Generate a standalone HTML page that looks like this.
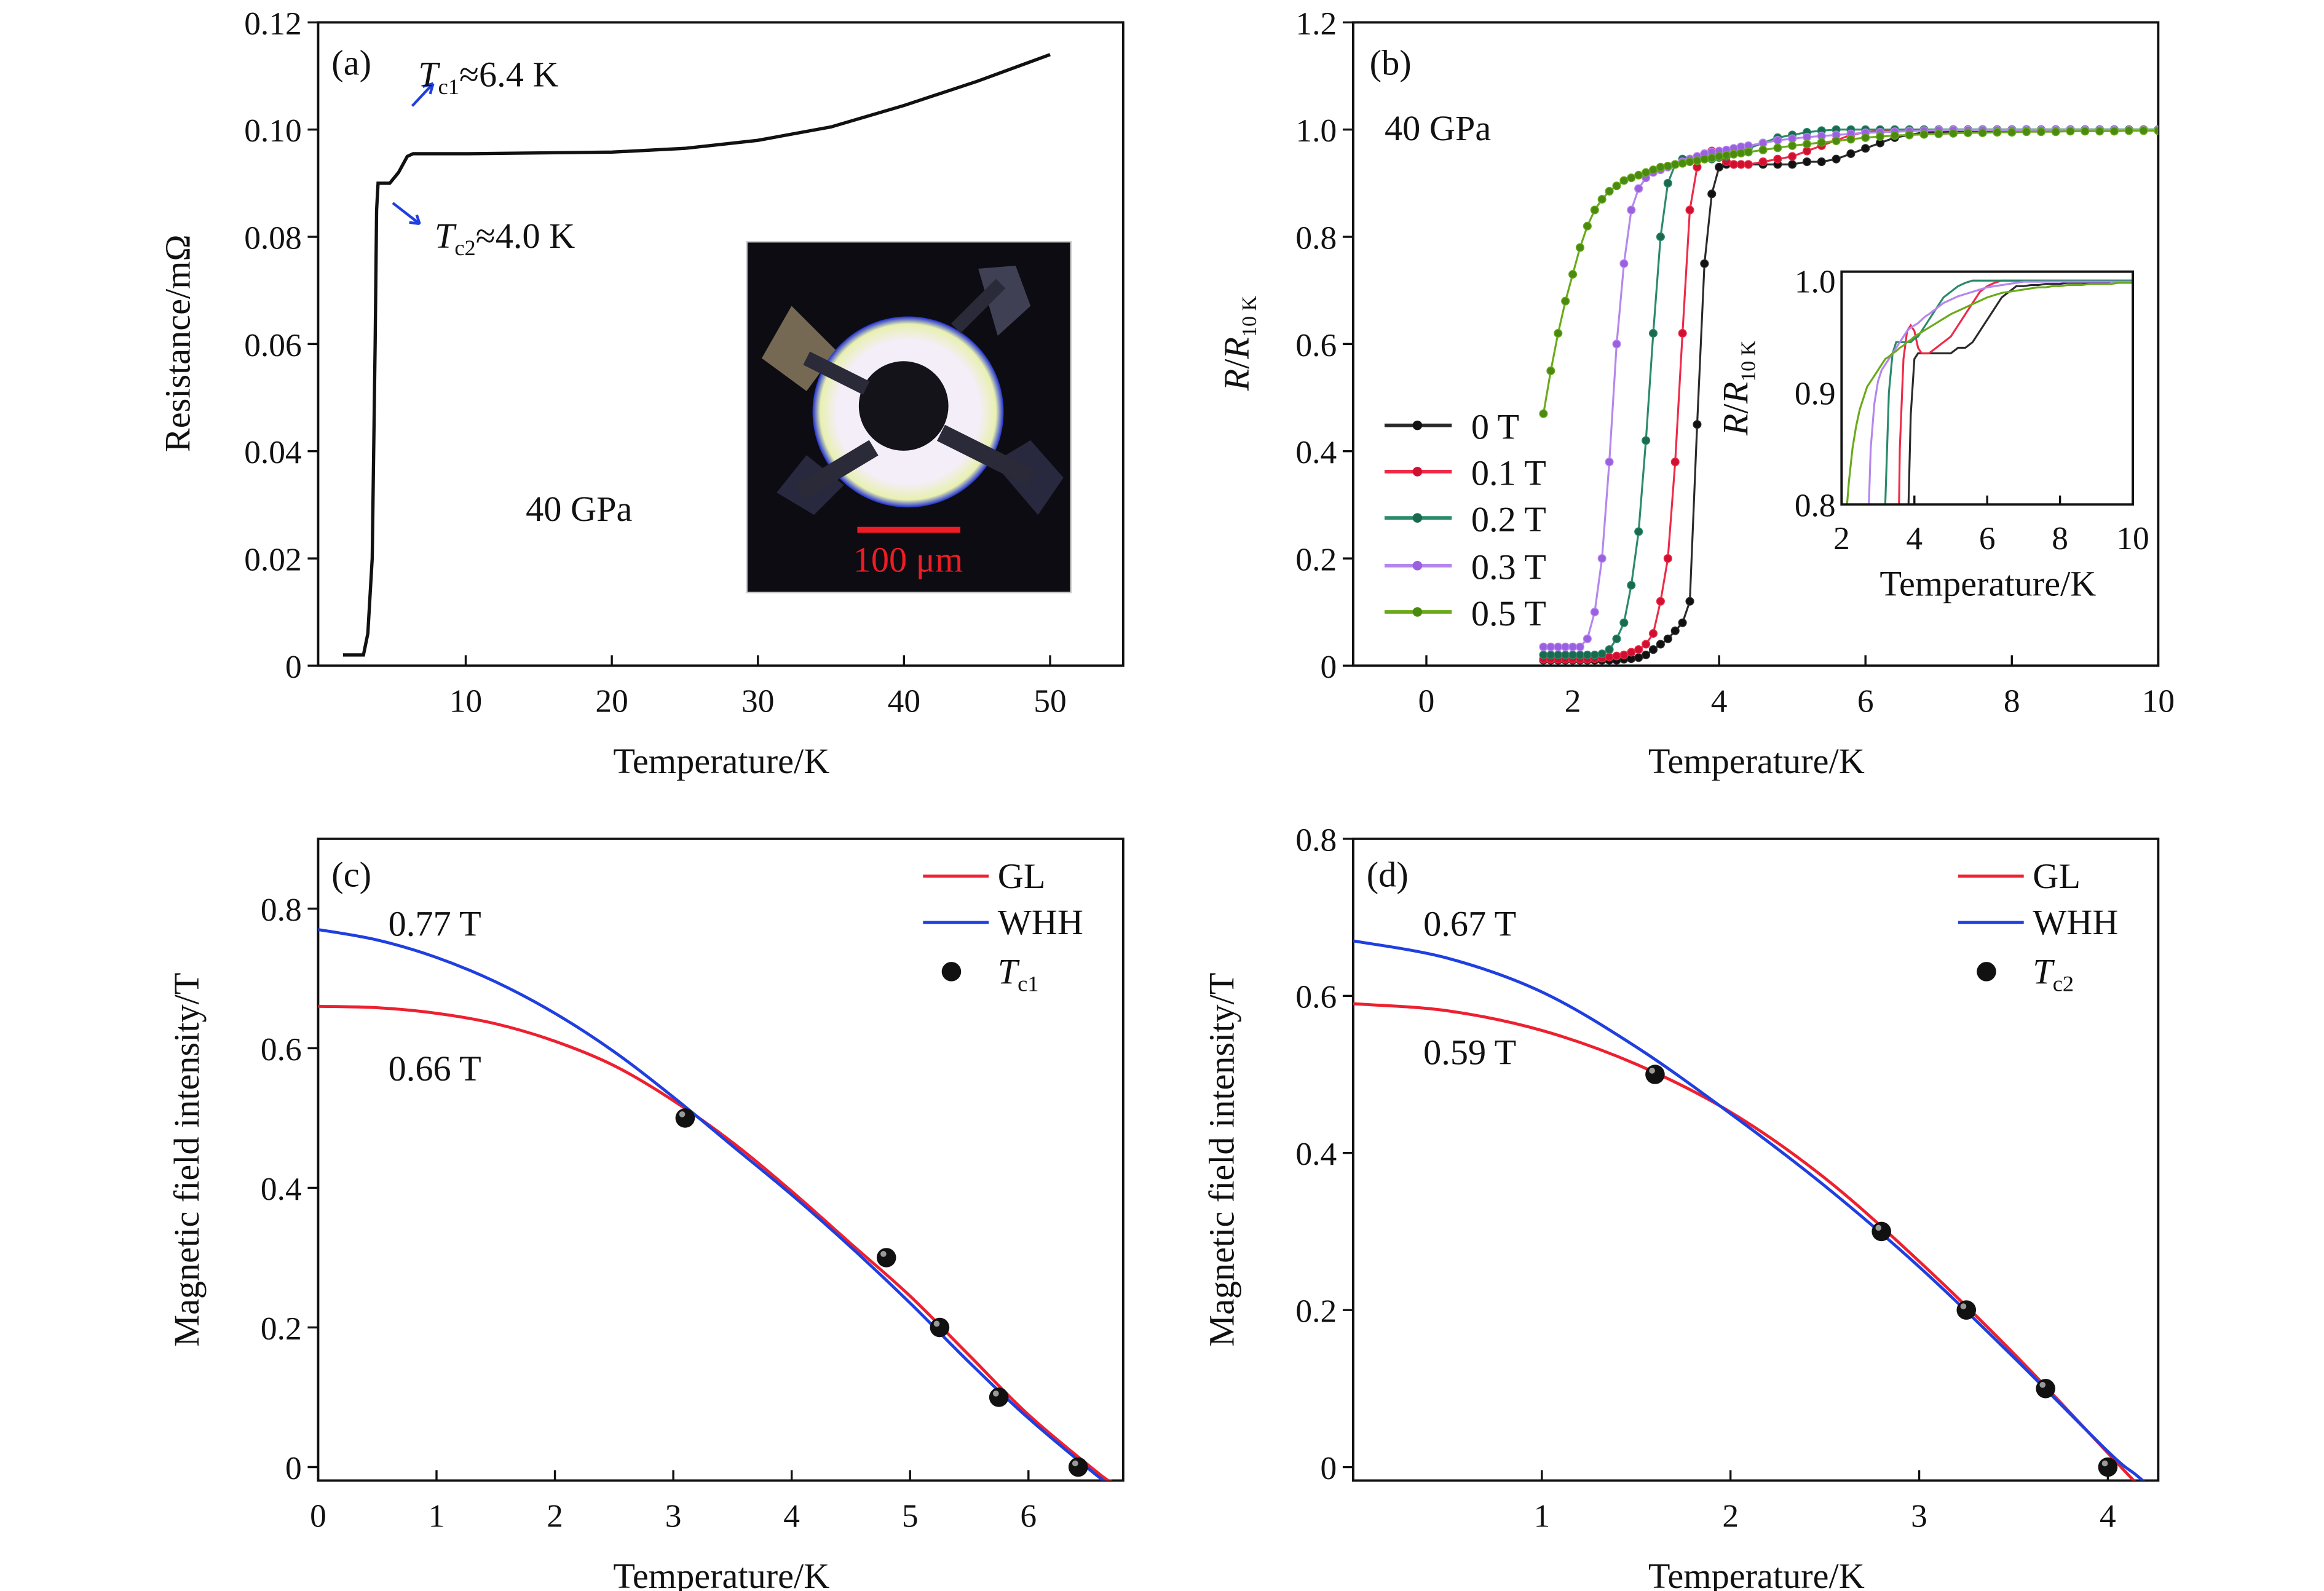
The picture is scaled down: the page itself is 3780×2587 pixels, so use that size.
<!DOCTYPE html>
<html><head><meta charset="utf-8">
<style>
html,body{margin:0;padding:0;background:#fff;}
svg{display:block;}
text{font-family:"Liberation Serif",serif;fill:#111;}
</style></head>
<body>
<svg id="fig" width="3780" height="2587" viewBox="0 0 1556 1066" preserveAspectRatio="none" xmlns="http://www.w3.org/2000/svg">
<defs>
<clipPath id="clipA"><rect x="213" y="15" width="539" height="431"/></clipPath>
<clipPath id="clipB"><rect x="906" y="15" width="539" height="431"/></clipPath>
<clipPath id="clipBi"><rect x="1233" y="182" width="195" height="156"/></clipPath>
<clipPath id="clipC"><rect x="213" y="562" width="539" height="430"/></clipPath>
<clipPath id="clipD"><rect x="906" y="562" width="539" height="430"/></clipPath>
<radialGradient id="ringG" cx="50%" cy="50%" r="50%"><stop offset="0.75" stop-color="#f4eef8"/><stop offset="0.92" stop-color="#e8f0b0"/><stop offset="1" stop-color="#2030d0"/></radialGradient>
</defs>
<g id="root"></g>
</svg>
<script>
// ---------- DATA ----------
const aTemps = [1.6,3,3.3,3.6,3.8,3.9,4.0,4.8,5.4,6.0,6.4,10,20,25,30,35,40,45,50];
const aRes   = [0.002,0.002,0.006,0.02,0.06,0.085,0.09,0.09,0.092,0.095,0.0955,0.0955,0.0958,0.0965,0.098,0.1005,0.1045,0.109,0.114];
const aXTicks = [10,20,30,40,50];
const aYTicks = [0,0.02,0.04,0.06,0.08,0.10,0.12];
const aYTickLabels = ["0","0.02","0.04","0.06","0.08","0.10","0.12"];

const bTemps = [1.6,1.7,1.8,1.9,2.0,2.1,2.2,2.3,2.4,2.5,2.6,2.7,2.8,2.9,3.0,3.1,3.2,3.3,3.4,3.5,3.6,3.7,3.8,3.9,4.0,4.1,4.2,4.3,4.4,4.6,4.8,5.0,5.2,5.4,5.6,5.8,6.0,6.2,6.4,6.6,6.8,7.0,7.2,7.4,7.6,7.8,8.0,8.2,8.4,8.6,8.8,9.0,9.2,9.4,9.6,9.8,10.0];
const b0T  = [0.01,0.01,0.01,0.01,0.01,0.01,0.01,0.01,0.01,0.01,0.01,0.012,0.013,0.015,0.02,0.03,0.04,0.05,0.065,0.08,0.12,0.45,0.75,0.88,0.93,0.935,0.935,0.935,0.935,0.935,0.935,0.935,0.94,0.94,0.945,0.955,0.965,0.975,0.985,0.99,0.995,0.995,0.996,0.996,0.997,0.997,0.997,0.998,0.998,0.998,0.998,0.998,0.998,0.999,0.999,0.999,0.999];
const b01T = [0.012,0.012,0.012,0.012,0.012,0.012,0.012,0.013,0.014,0.016,0.018,0.02,0.025,0.03,0.04,0.06,0.12,0.2,0.38,0.62,0.85,0.93,0.955,0.96,0.955,0.94,0.935,0.935,0.935,0.94,0.945,0.95,0.96,0.97,0.98,0.99,0.995,0.998,1.0,1.0,1.0,1.0,1.0,1.0,1.0,1.0,1.0,1.0,1.0,1.0,1.0,1.0,1.0,1.0,1.0,1.0,1.0];
const b02T = [0.02,0.02,0.02,0.02,0.02,0.02,0.02,0.02,0.022,0.03,0.05,0.08,0.15,0.25,0.42,0.62,0.8,0.9,0.935,0.945,0.945,0.945,0.945,0.945,0.948,0.95,0.955,0.96,0.965,0.975,0.985,0.99,0.995,0.998,1.0,1.0,1.0,1.0,1.0,1.0,1.0,1.0,1.0,1.0,1.0,1.0,1.0,1.0,1.0,1.0,1.0,1.0,1.0,1.0,1.0,1.0,1.0];
const b03T = [0.035,0.035,0.035,0.035,0.035,0.035,0.05,0.1,0.2,0.38,0.6,0.75,0.85,0.89,0.91,0.92,0.925,0.93,0.935,0.94,0.945,0.95,0.955,0.958,0.96,0.962,0.965,0.968,0.97,0.975,0.98,0.983,0.986,0.988,0.99,0.992,0.994,0.995,0.996,0.997,0.998,0.999,0.999,0.999,0.999,0.999,0.999,0.999,0.999,0.999,0.999,0.999,0.999,0.999,0.999,0.999,0.999];
const b05T = [0.47,0.55,0.62,0.68,0.73,0.78,0.82,0.85,0.87,0.885,0.895,0.905,0.91,0.915,0.92,0.925,0.93,0.932,0.935,0.937,0.94,0.942,0.945,0.947,0.95,0.952,0.954,0.956,0.958,0.962,0.966,0.97,0.973,0.976,0.979,0.982,0.985,0.987,0.989,0.99,0.991,0.992,0.993,0.994,0.994,0.995,0.995,0.996,0.996,0.996,0.997,0.997,0.997,0.997,0.998,0.998,0.998];
const bLabels = ["0 T","0.1 T","0.2 T","0.3 T","0.5 T"];
const bXTicks = [0,2,4,6,8,10];
const bYTicks = [0,0.2,0.4,0.6,0.8,1.0,1.2];
const bYTickLabels = ["0","0.2","0.4","0.6","0.8","1.0","1.2"];
const biXTicks = [2,4,6,8,10];
const biYTicks = [0.8,0.9,1.0];
const biYTickLabels = ["0.8","0.9","1.0"];

const cCurveT = [0,0.5,1,1.5,2,2.5,3,3.5,4,4.5,5,5.5,6,6.6,6.7];
const cGL  = [0.66,0.658,0.65,0.635,0.61,0.575,0.525,0.465,0.395,0.32,0.245,0.16,0.075,-0.01,-0.02];
const cWHH = [0.77,0.755,0.73,0.695,0.65,0.595,0.53,0.46,0.39,0.315,0.235,0.15,0.07,-0.015,-0.025];
const cPtT = [3.1,4.8,5.25,5.75,6.42];
const cPtH = [0.5,0.3,0.2,0.1,0.0];
const cXTicks = [0,1,2,3,4,5,6];
const cYTicks = [0,0.2,0.4,0.6,0.8];
const cYTickLabels = ["0","0.2","0.4","0.6","0.8"];

const dCurveT = [0,0.5,1,1.5,2,2.5,3,3.5,4,4.15,4.25];
const dGL  = [0.59,0.581,0.556,0.513,0.452,0.368,0.262,0.145,0.018,-0.02,-0.04];
const dWHH = [0.67,0.648,0.605,0.535,0.45,0.358,0.255,0.14,0.02,-0.01,-0.03];
const dPtT = [1.6,2.8,3.25,3.67,4.0];
const dPtH = [0.5,0.3,0.2,0.1,0.0];
const dXTicks = [1,2,3,4];
const dYTicks = [0,0.2,0.4,0.6,0.8];
const dYTickLabels = ["0","0.2","0.4","0.6","0.8"];

// ---------- HELPERS ----------
const NS="http://www.w3.org/2000/svg";
const root=document.getElementById('root');
function el(tag,attrs,parent){const e=document.createElementNS(NS,tag);for(const k in attrs)e.setAttribute(k,attrs[k]);(parent||root).appendChild(e);return e;}
function txt(s,x,y,size,anchor,parent,extra){const t=el('text',Object.assign({x:x,y:y,'font-size':size,'text-anchor':anchor||'start'},extra||{}),parent);t.textContent=s;return t;}
function lin(d0,d1,r0,r1){return v=>r0+(v-d0)/(d1-d0)*(r1-r0);}
function pathOf(xs,ys,sx,sy){return xs.map((x,i)=>(i?'L':'M')+sx(x).toFixed(2)+','+sy(ys[i]).toFixed(2)).join('');}
function smoothOf(xs,ys,sx,sy){const P=xs.map((x,i)=>[sx(x),sy(ys[i])]);let d='M'+P[0][0].toFixed(2)+','+P[0][1].toFixed(2);for(let i=0;i<P.length-1;i++){const p0=P[i-1]||P[i],p1=P[i],p2=P[i+1],p3=P[i+2]||P[i+1];const c1=[p1[0]+(p2[0]-p0[0])/6,p1[1]+(p2[1]-p0[1])/6],c2=[p2[0]-(p3[0]-p1[0])/6,p2[1]-(p3[1]-p1[1])/6];d+='C'+c1.join(',')+' '+c2.join(',')+' '+p2.join(',');}return d;}
function frame(g,x0,y0,x1,y1){el('rect',{x:x0,y:y0,width:x1-x0,height:y1-y0,fill:'none',stroke:'#111','stroke-width':1.6},g);}
function xTicks(g,ticks,labels,sx,ybot,size,len,ly){ticks.forEach((t,i)=>{el('line',{x1:sx(t),x2:sx(t),y1:ybot,y2:ybot-len,stroke:'#111','stroke-width':1.4},g);const l=txt(labels[i],sx(t),ly,size,'middle',g);

});}
function yTicks(g,ticks,labels,sy,xl,size,len){ticks.forEach((t,i)=>{el('line',{x1:xl,x2:xl-len,y1:sy(t),y2:sy(t),stroke:'#111','stroke-width':1.4},g);const l=txt(labels[i],xl-len-4,sy(t)+8,size,'end',g);

});}

// ---------- PANEL A ----------
{
const g=el('g',{});


const sx=lin(0,55,214,752), sy=lin(0,0.12,446,15);
const ph=el('g',{},g);


el('rect',{x:500,y:162,width:217,height:235,fill:'#0d0c12',stroke:'#ccc','stroke-width':1},ph);
el('polygon',{points:'510,240 530,205 560,235 540,262',fill:'#8a7a60',opacity:0.85},ph);
el('polygon',{points:'655,180 680,178 690,205 668,225',fill:'#4a4a60',opacity:0.85},ph);
el('polygon',{points:'520,330 540,305 565,325 545,345',fill:'#30304a',opacity:0.8},ph);
el('polygon',{points:'665,310 690,295 712,320 695,345',fill:'#30304a',opacity:0.8},ph);
el('circle',{cx:608,cy:276,r:64,fill:'url(#ringG)'},ph);
el('circle',{cx:605,cy:272,r:30,fill:'#15131a'},ph);
el('line',{x1:540,y1:240,x2:580,y2:260,stroke:'#2a2a38','stroke-width':10},ph);
el('line',{x1:640,y1:220,x2:670,y2:190,stroke:'#2a2a38','stroke-width':9},ph);
el('line',{x1:585,y1:300,x2:535,y2:330,stroke:'#2a2a38','stroke-width':12},ph);
el('line',{x1:630,y1:290,x2:690,y2:320,stroke:'#2a2a38','stroke-width':12},ph);
el('rect',{x:574,y:353,width:69,height:4,fill:'#ee1c24'},ph);
const sb=txt('100 μm',608,383,24,'middle',ph,{style:'fill:#ee1c24'});


frame(g,213,15,752,446);
xTicks(g,aXTicks,aXTicks.map(String),sx,446,22,7,477);
yTicks(g,aYTicks,aYTickLabels,sy,213,22,7);
const p=el('path',{d:pathOf(aTemps,aRes,sx,sy),fill:'none',stroke:'#111','stroke-width':2.2,'clip-path':'url(#clipA)'},g);


const a1=el('path',{d:'M276,71 L290,56 M290,56 l-7,2 M290,56 l-2,7',stroke:'#1f3fe0','stroke-width':1.8,fill:'none'},g);


const a2=el('path',{d:'M263,136 L281,150 M281,150 l-7,-1 M281,150 l-2,-6',stroke:'#1f3fe0','stroke-width':1.8,fill:'none'},g);


const pl=txt('(a)',222,50,24,'start',g);


const t1=el('text',{x:280,y:58,'font-size':24},g);
t1.innerHTML='<tspan font-style="italic">T</tspan><tspan font-size="15" dy="5">c1</tspan><tspan dy="-5">≈6.4 K</tspan>';


const t2=el('text',{x:291,y:166,'font-size':24},g);
t2.innerHTML='<tspan font-style="italic">T</tspan><tspan font-size="15" dy="5">c2</tspan><tspan dy="-5">≈4.0 K</tspan>';


const pr=txt('40 GPa',352,349,24,'start',g);


const xl=txt('Temperature/K',483,518,24,'middle',g);


const yl=txt('Resistance/mΩ',127,230,24,'middle',g,{transform:'rotate(-90 127 230)'});


}

// ---------- PANEL B ----------
{
const g=el('g',{});


const sx=lin(-1,10,906,1445), sy=lin(0,1.2,446,15);
const series=[b0T,b01T,b02T,b03T,b05T];
const cols=['#2a2a2a','#ee2a48','#2a8a6a','#b586ee','#6aaa1a'];
const dark=['#111','#d01030','#1a6a50','#9a60e0','#4a8a10'];
frame(g,906,15,1445,446);
xTicks(g,bXTicks,bXTicks.map(String),sx,446,22,7,477);
yTicks(g,bYTicks,bYTickLabels,sy,906,22,7);
series.forEach((s,k)=>{
 const sg=el('g',{'clip-path':'url(#clipB)'},g);
 
 
 el('path',{d:pathOf(bTemps,s,sx,sy),fill:'none',stroke:cols[k],'stroke-width':1.3},sg);
 bTemps.forEach((t,i)=>{const c=el('circle',{cx:sx(t),cy:sy(s[i]),r:2.6,fill:dark[k],stroke:cols[k],'stroke-width':0.6},sg);
 
 });
});
bLabels.forEach((lab,k)=>{
 const y=[285,316,347,379,410][k];
 const lg=el('g',{},g);
 
 
 el('line',{x1:927,x2:972,y1:y,y2:y,stroke:cols[k],'stroke-width':2.4},lg);
 el('circle',{cx:949,cy:y,r:3.2,fill:dark[k]},lg);
 txt(lab,985,y+9,24,'start',lg);
});
const pl=txt('(b)',917,50,24,'start',g);


const pr=txt('40 GPa',927,94,24,'start',g);


const xl=txt('Temperature/K',1176,518,24,'middle',g);


const yl=el('text',{x:836,y:230,'font-size':24,'text-anchor':'middle',transform:'rotate(-90 836 230)'},g);
yl.innerHTML='<tspan font-style="italic">R</tspan>/<tspan font-style="italic">R</tspan><tspan font-size="14" dy="5">10 K</tspan>';


const ig=el('g',{},g);


const ix=lin(2,10,1233,1428), iy=lin(0.8,1.0,338,188);
el('rect',{x:1233,y:182,width:195,height:156,fill:'#fff'},ig);
series.forEach((s,k)=>{const p=el('path',{d:pathOf(bTemps,s,ix,iy),fill:'none',stroke:cols[k],'stroke-width':1.3,'clip-path':'url(#clipBi)'},ig);

});
frame(ig,1233,182,1428,338);
xTicks(ig,biXTicks,biXTicks.map(String),ix,338,22,6,368);
yTicks(ig,biYTicks,biYTickLabels,iy,1233,22,0);
const ixl=txt('Temperature/K',1331,399,24,'middle',ig);


const iyl=el('text',{x:1170,y:260,'font-size':24,'text-anchor':'middle',transform:'rotate(-90 1170 260)'},ig);
iyl.innerHTML='<tspan font-style="italic">R</tspan>/<tspan font-style="italic">R</tspan><tspan font-size="14" dy="5">10 K</tspan>';


}

// ---------- PANELS C & D ----------
function hcPanel(id,x0,xmin,xmax,ymin,ymax,xt,yt,ytl,cT,gl,whh,pT,pH,h0w,h0g,yw,yg,tcsub){
 const g=el('g',{});
 
 
 const sx=lin(xmin,xmax,x0,x0+539), sy=lin(ymin,ymax,992,562);
 frame(g,x0,562,x0+539,992);
 xTicks(g,xt,xt.map(String),sx,992,22,7,1023);
 yTicks(g,yt,ytl,sy,x0,22,7);
 const clip='url(#clip'+id.toUpperCase()+')';
 const p1=el('path',{d:smoothOf(cT,gl,sx,sy),fill:'none',stroke:'#ee2030','stroke-width':2,'clip-path':clip},g);
 
 
 const p2=el('path',{d:smoothOf(cT,whh,sx,sy),fill:'none',stroke:'#1f3fe0','stroke-width':2,'clip-path':clip},g);
 
 
 pT.forEach((t,i)=>{const c=el('circle',{cx:sx(t),cy:sy(pH[i]),r:6.5,fill:'#111'},g);
 
 
 el('circle',{cx:sx(t)-2,cy:sy(pH[i])-2.5,r:2,fill:'#999'},g);});
 const pl=txt('('+id+')',x0+9,594,24,'start',g);
 
 
 const a=txt(h0w,x0+47,yw,24,'start',g);
 
 
 const b=txt(h0g,x0+47,yg,24,'start',g);
 
 
 const lx=x0+405;
 const l1=el('g',{},g);
 
 
 el('line',{x1:lx,x2:lx+44,y1:587,y2:587,stroke:'#ee2030','stroke-width':2},l1);
 txt('GL',lx+50,595,24,'start',l1);
 const l2=el('g',{},g);
 
 
 el('line',{x1:lx,x2:lx+44,y1:618,y2:618,stroke:'#1f3fe0','stroke-width':2},l2);
 txt('WHH',lx+50,626,24,'start',l2);
 const l3=el('g',{},g);
 
 
 el('circle',{cx:lx+19,cy:651,r:6.5,fill:'#111'},l3);
 const tt=el('text',{x:lx+50,y:659,'font-size':24},l3);
 tt.innerHTML='<tspan font-style="italic">T</tspan><tspan font-size="15" dy="5">'+tcsub+'</tspan>';
 const xl=txt('Temperature/K',x0+270,1064,24,'middle',g);
 
 
 const yx=x0-80;
 const yl=txt('Magnetic field intensity/T',yx,777,24,'middle',g,{transform:'rotate(-90 '+yx+' 777)'});
 
 
}
hcPanel('c',213,0,6.8,-0.0193,0.9,cXTicks,cYTicks,cYTickLabels,cCurveT,cGL,cWHH,cPtT,cPtH,'0.77 T','0.66 T',627,724,'c1');
hcPanel('d',906,0,4.267,-0.0171,0.8,dXTicks,dYTicks,dYTickLabels,dCurveT,dGL,dWHH,dPtT,dPtH,'0.67 T','0.59 T',627,713,'c2');
</script>
</body></html>
